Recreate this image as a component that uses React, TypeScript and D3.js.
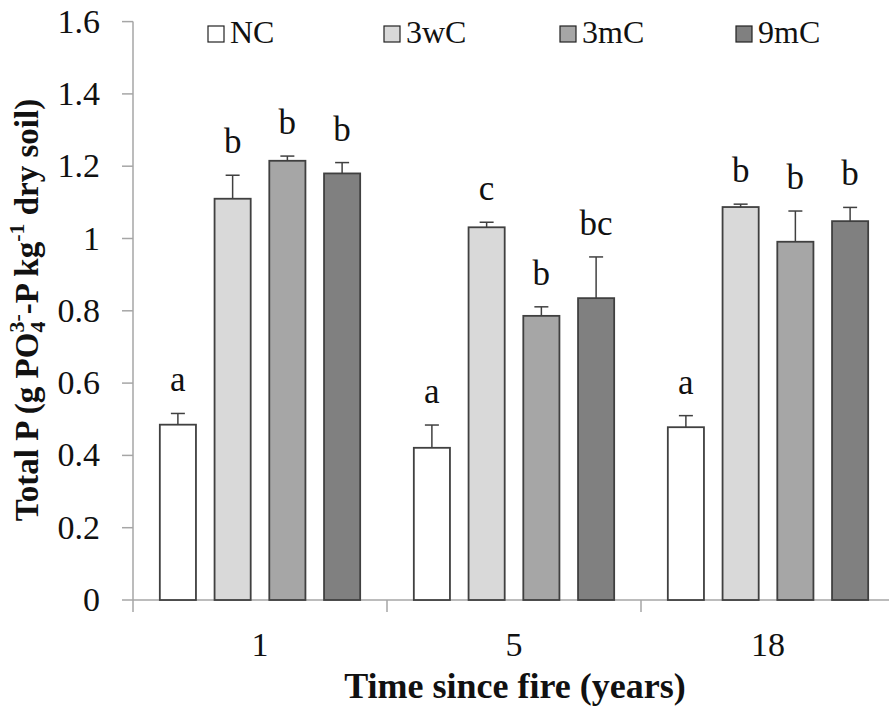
import React, { useEffect, useRef } from 'react';
import * as d3 from 'd3';

const years = ['1', '5', '18'];
const treatments = ['NC', '3wC', '3mC', '9mC'];
const colors = ['#ffffff', '#d9d9d9', '#a6a6a6', '#808080'];

const meanNC = [0.485, 0.421, 0.478];
const mean3wC = [1.11, 1.031, 1.087];
const mean3mC = [1.215, 0.786, 0.991];
const mean9mC = [1.18, 0.835, 1.048];

const errNC = [0.031, 0.063, 0.032];
const err3wC = [0.065, 0.014, 0.008];
const err3mC = [0.013, 0.025, 0.085];
const err9mC = [0.03, 0.114, 0.038];

const lettersNC = ['a', 'a', 'a'];
const letters3wC = ['b', 'c', 'b'];
const letters3mC = ['b', 'b', 'b'];
const letters9mC = ['b', 'bc', 'b'];

const yTicks = [0, 0.2, 0.4, 0.6, 0.8, 1, 1.2, 1.4, 1.6];

const App = () => {
  const ref = useRef<SVGSVGElement>(null);

  useEffect(() => {
    const svg = d3.select(ref.current);
    svg.selectAll('*').remove();

    const means = [meanNC, mean3wC, mean3mC, mean9mC];
    const errs = [errNC, err3wC, err3mC, err9mC];
    const letters = [lettersNC, letters3wC, letters3mC, letters9mC];

    const data: any[] = [];
    years.forEach((yr, i) => {
      treatments.forEach((t, j) => {
        data.push({ year: yr, t, v: means[j][i], e: errs[j][i], l: letters[j][i], c: colors[j] });
      });
    });

    const left = 133, bottom = 600, top = 21.6;
    const x0 = d3.scaleBand().domain(years).range([left, left + 254 * 3]);
    const x1 = d3.scaleBand().domain(treatments).range([0, x0.bandwidth()]).paddingInner(0.34).paddingOuter(0.49);
    const y = d3.scaleLinear().domain([0, 1.6]).range([bottom, top]);

    const font = '"Liberation Serif", "Times New Roman", serif';
    const axisColor = '#a6a6a6';

    // y axis
    svg.append('line').attr('x1', left).attr('x2', left).attr('y1', y(1.6)).attr('y2', bottom)
      .attr('stroke', axisColor).attr('stroke-width', 1.5);
    svg.append('g').selectAll('line').data(yTicks).join('line')
      .attr('x1', left - 11).attr('x2', left).attr('y1', d => y(d)).attr('y2', d => y(d))
      .attr('stroke', axisColor).attr('stroke-width', 1.5);
    svg.append('g').selectAll('text').data(yTicks).join('text')
      .attr('x', 100).attr('y', d => y(d) + 11).attr('text-anchor', 'end')
      .attr('font-family', font).attr('font-size', 34).attr('fill', '#111')
      .text(d => String(d));

    // x axis
    svg.append('line').attr('x1', left).attr('x2', 895).attr('y1', bottom).attr('y2', bottom)
      .attr('stroke', axisColor).attr('stroke-width', 1.5);
    const bounds = years.map(d => x0(d) as number).concat([left + 254 * 3]);
    svg.append('g').selectAll('line').data(bounds).join('line')
      .attr('x1', d => d).attr('x2', d => d).attr('y1', bottom).attr('y2', bottom + 12)
      .attr('stroke', axisColor).attr('stroke-width', 1.5);
    svg.append('g').selectAll('text').data(years).join('text')
      .attr('x', d => (x0(d) as number) + x0.bandwidth() / 2).attr('y', 656)
      .attr('text-anchor', 'middle').attr('font-family', font).attr('font-size', 34).attr('fill', '#111')
      .text(d => d);

    // bars
    const g = svg.append('g');
    const bx = (d: any) => (x0(d.year) as number) + (x1(d.t) as number);
    g.selectAll('rect').data(data).join('rect')
      .attr('x', bx).attr('width', x1.bandwidth())
      .attr('y', d => y(d.v)).attr('height', d => bottom - y(d.v))
      .attr('fill', d => d.c).attr('stroke', '#404040').attr('stroke-width', 1.8);

    // error bars
    const eb = svg.append('g').attr('stroke', '#404040').attr('stroke-width', 1.5);
    eb.selectAll('line.v').data(data).join('line').attr('class', 'v')
      .attr('x1', d => bx(d) + x1.bandwidth() / 2).attr('x2', d => bx(d) + x1.bandwidth() / 2)
      .attr('y1', d => y(d.v)).attr('y2', d => y(d.v + d.e));
    eb.selectAll('line.h').data(data).join('line').attr('class', 'h')
      .attr('x1', d => bx(d) + x1.bandwidth() / 2 - 7).attr('x2', d => bx(d) + x1.bandwidth() / 2 + 7)
      .attr('y1', d => y(d.v + d.e)).attr('y2', d => y(d.v + d.e));

    // letters
    svg.append('g').selectAll('text').data(data).join('text')
      .attr('x', d => bx(d) + x1.bandwidth() / 2).attr('y', d => y(d.v + d.e) - 22)
      .attr('text-anchor', 'middle').attr('font-family', font).attr('font-size', 35).attr('fill', '#111')
      .text(d => d.l);

    // legend
    const lg = svg.append('g').selectAll('g').data(treatments).join('g')
      .attr('transform', (d, i) => `translate(${208 + i * 176},26)`);
    lg.append('rect').attr('width', 16).attr('height', 16)
      .attr('fill', (d, i) => colors[i]).attr('stroke', '#222').attr('stroke-width', 1.2);
    lg.append('text').attr('x', 22).attr('y', 17).attr('font-family', font).attr('font-size', 32)
      .attr('fill', '#111').text(d => d);

    // x title
    svg.append('text').attr('x', 515).attr('y', 698).attr('text-anchor', 'middle')
      .attr('font-family', font).attr('font-size', 36).attr('font-weight', 'bold').attr('fill', '#111')
      .text('Time since fire (years)');

    // y title
    const yt = svg.append('text').attr('transform', 'translate(38,310) rotate(-90)')
      .attr('text-anchor', 'middle').attr('font-family', font).attr('font-size', 33)
      .attr('font-weight', 'bold').attr('fill', '#111');
    yt.append('tspan').text('Total P (g PO');
    yt.append('tspan').attr('font-size', 22).attr('dy', 7).text('4');
    yt.append('tspan').attr('font-size', 22).attr('dx', -11).attr('dy', -21).text('3-');
    yt.append('tspan').attr('dy', 14).text('-P kg');
    yt.append('tspan').attr('font-size', 22).attr('dy', -14).text('-1');
    yt.append('tspan').attr('dy', 14).text(' dry soil)');
  }, []);

  return (
    <svg ref={ref} width={889} height={713}
      style={{ position: 'absolute', left: 0, top: 0, background: '#fff' }} />
  );
};

export default App;
